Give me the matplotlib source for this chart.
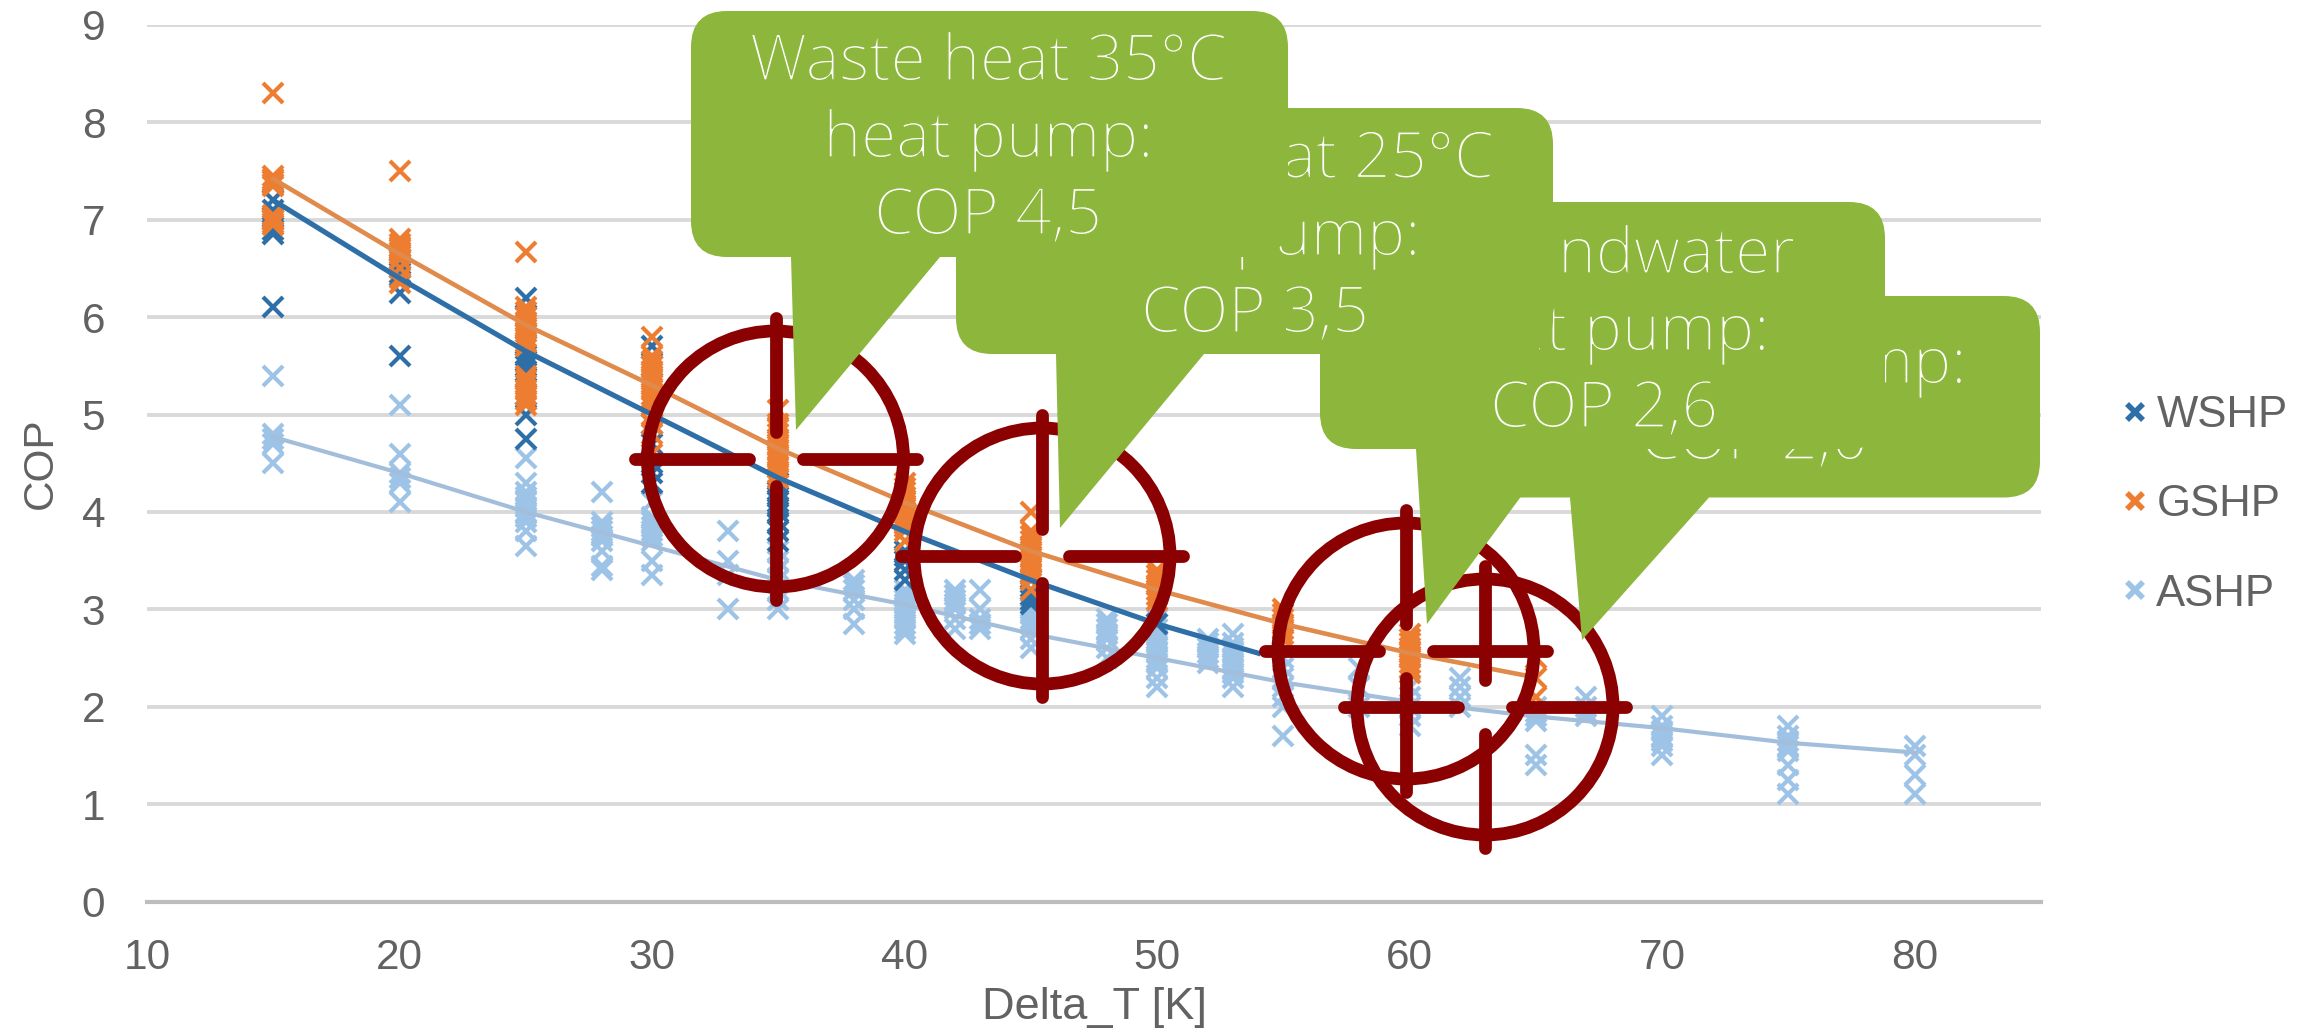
import matplotlib
matplotlib.use("Agg")
import matplotlib.pyplot as plt
import matplotlib.patheffects as pe
from matplotlib.path import Path
from matplotlib.patches import PathPatch, Circle
from matplotlib.lines import Line2D

W, H, DPI = 2320, 1033, 100
plt.rcParams['font.family'] = ['Liberation Sans', 'DejaVu Sans']

# ---------- data ----------
wshp_pts = {15: [7.2, 7.1, 7.0, 6.9, 6.85, 6.1],
            20: [6.6, 6.55, 6.5, 6.45, 6.25, 5.6],
            25: [6.2, 6.0, 5.7, 5.6, 5.55, 5.5, 5.45, 5.2, 5.0, 4.75],
            30: [5.7, 5.5, 4.9, 4.7, 4.5, 4.4, 4.3],
            35: [4.3, 4.2, 4.15, 4.1, 4.05, 4.0, 3.9, 3.8, 3.7],
            40: [3.6, 3.55, 3.5, 3.4, 3.3],
            45: [3.3, 3.2, 3.15, 3.1, 3.05],
            50: [2.85]}
gshp_pts = {15: [8.3, 7.45, 7.42, 7.4, 7.37, 7.35, 7.05, 7.02, 7.0, 6.97, 6.95],
            20: [7.5, 6.8, 6.75, 6.72, 6.7, 6.67, 6.65, 6.6, 6.5, 6.4, 6.35],
            25: [6.67, 6.1, 6.05, 6.0, 5.95, 5.9, 5.85, 5.8, 5.75, 5.7, 5.4, 5.35, 5.3, 5.25, 5.2, 5.15, 5.1],
            30: [5.8, 5.6, 5.55, 5.5, 5.45, 5.4, 5.35, 5.3, 5.25, 5.2, 5.15, 5.1, 5.0, 4.9, 4.8, 4.6],
            35: [5.05, 4.9, 4.85, 4.8, 4.75, 4.7, 4.65, 4.6, 4.55, 4.5, 4.45, 4.4, 4.35],
            40: [4.3, 4.25, 4.2, 4.15, 4.1, 4.05, 4.0, 3.95, 3.9, 3.85, 3.8, 3.7],
            45: [4.0, 3.8, 3.75, 3.7, 3.65, 3.6, 3.55, 3.5, 3.45, 3.4, 3.35, 3.3, 3.2],
            50: [3.4, 3.35, 3.3, 3.25, 3.2, 3.15, 3.1],
            55: [3.0, 2.95, 2.9, 2.85, 2.8, 2.75, 2.7],
            60: [2.75, 2.7, 2.65, 2.6, 2.55, 2.5, 2.45, 2.4, 2.35],
            65: [2.5, 2.3, 2.1]}
ashp_pts = {15: [5.4, 4.8, 4.75, 4.7, 4.5],
            20: [5.1, 4.6, 4.4, 4.35, 4.3, 4.1],
            25: [4.55, 4.3, 4.2, 4.15, 4.1, 4.05, 4.0, 3.95, 3.9, 3.8, 3.65],
            28: [4.2, 3.9, 3.85, 3.8, 3.75, 3.7, 3.6, 3.45, 3.4],
            30: [4.1, 3.95, 3.9, 3.85, 3.8, 3.75, 3.7, 3.5, 3.35],
            33: [3.8, 3.5, 3.35, 3.0],
            35: [3.6, 3.5, 3.4, 3.3, 3.2, 3.1, 3.0],
            38: [3.3, 3.25, 3.2, 3.1, 3.0, 2.85],
            40: [3.2, 3.15, 3.1, 3.05, 3.0, 2.95, 2.9, 2.85, 2.8, 2.75],
            42: [3.2, 3.15, 3.1, 3.05, 3.0, 2.9, 2.8],
            43: [3.2, 3.0, 2.9, 2.85, 2.8],
            45: [3.0, 2.95, 2.9, 2.85, 2.8, 2.7, 2.6],
            48: [2.9, 2.85, 2.8, 2.75, 2.7, 2.6, 2.5],
            50: [2.9, 2.85, 2.8, 2.75, 2.7, 2.65, 2.6, 2.55, 2.5, 2.45, 2.4, 2.3, 2.2],
            52: [2.7, 2.65, 2.6, 2.55, 2.5, 2.45],
            53: [2.75, 2.65, 2.6, 2.55, 2.5, 2.45, 2.4, 2.35, 2.3, 2.2],
            55: [2.5, 2.4, 2.3, 2.2, 2.1, 2.0, 1.7],
            58: [2.4, 2.2, 2.0],
            60: [2.2, 2.1, 2.0, 1.9, 1.8],
            62: [2.3, 2.2, 2.1, 2.0],
            65: [2.0, 1.95, 1.9, 1.85, 1.5, 1.4],
            67: [2.1, 2.0, 1.95, 1.9],
            70: [1.9, 1.8, 1.75, 1.7, 1.65, 1.6, 1.5],
            75: [1.8, 1.7, 1.65, 1.6, 1.55, 1.4, 1.25, 1.1],
            80: [1.6, 1.5, 1.3, 1.1]}

wshp_trend_x = [15, 20, 25, 30, 35, 40, 45, 50, 54]
wshp_trend_y = [7.2, 6.4, 5.65, 5.0, 4.35, 3.8, 3.3, 2.85, 2.55]
gshp_trend_x = [15, 20, 25, 30, 35, 40, 45, 50, 55, 60, 65]
gshp_trend_y = [7.42, 6.65, 5.92, 5.3, 4.65, 4.1, 3.6, 3.2, 2.85, 2.55, 2.3]
ashp_trend_x = [15, 20, 25, 30, 35, 40, 45, 50, 55, 60, 65, 70, 75, 80]
ashp_trend_y = [4.77, 4.4, 4.0, 3.65, 3.3, 3.05, 2.75, 2.5, 2.25, 2.05, 1.9, 1.78, 1.63, 1.53]

x_ticks = [10, 20, 30, 40, 50, 60, 70, 80]
y_ticks = [0, 1, 2, 3, 4, 5, 6, 7, 8, 9]

callout_texts = [
    ["Waste heat 35\u00b0C", "heat pump:", "COP 4,5"],
    ["Waste heat 25\u00b0C", "heat pump:", "COP 3,5"],
    ["Groundwater", "heat pump:", "COP 2,6"],
    ["Air heat pump:", "COP 2,0"],
]

# ---------- layout in pixels ----------
AX_L, AX_R, AX_T, AX_B = 147, 2041, 25, 901.5
C_WSHP, C_GSHP, C_ASHP = '#2E6FA8', '#ED7D31', '#9DC3E6'
C_LINE_A = '#A3BEDB'
C_TEXT = '#626262'
C_GREEN = '#8DB63C'
C_RED = '#8B0000'

fig = plt.figure(figsize=(W / DPI, H / DPI), dpi=DPI, facecolor='white')
ax = fig.add_axes([AX_L / W, 1 - AX_B / H, (AX_R - AX_L) / W, (AX_B - AX_T) / H])
ax.set_xlim(10, 85)
ax.set_ylim(0, 9)
ax.set_xticks(x_ticks)
ax.set_yticks(y_ticks)
ax.grid(axis='y', color='#D9D9D9', lw=2.8, zorder=0)
ax.set_axisbelow(True)
for s in ['top', 'right', 'left']:
    ax.spines[s].set_visible(False)
ax.spines['bottom'].set_color('#BDBDBD')
ax.spines['bottom'].set_linewidth(3)
ax.tick_params(axis='both', length=0, labelsize=30.5, labelcolor=C_TEXT)
ax.tick_params(axis='y', pad=30)
ax.tick_params(axis='x', pad=26)
ax.set_xlabel('Delta_T [K]', fontsize=32.5, color=C_TEXT, labelpad=7)
ax.set_ylabel('COP', fontsize=30.5, color=C_TEXT, labelpad=15)


def flatten(pts):
    xs, ys = [], []
    for k, vals in pts.items():
        xs += [k] * len(vals)
        ys += vals
    return xs, ys


for pts, col, lab, z in [(ashp_pts, C_ASHP, 'ASHP', 3), (wshp_pts, C_WSHP, 'WSHP', 4),
                         (gshp_pts, C_GSHP, 'GSHP', 5)]:
    xs, ys = flatten(pts)
    ax.plot(xs, ys, ls='none', marker='x', ms=14.5, mew=3, color=col, zorder=z)

ax.plot(ashp_trend_x, ashp_trend_y, color=C_LINE_A, lw=3, zorder=6)
ax.plot(gshp_trend_x, gshp_trend_y, color='#E08A4C', lw=3.3, zorder=6)
ax.plot(wshp_trend_x, wshp_trend_y, color=C_WSHP, lw=3.7, zorder=6)

handles = [Line2D([], [], ls='none', marker='x', ms=12, mew=4, color=c)
           for c in (C_WSHP, C_GSHP, C_ASHP)]
fig.legend(handles, ['WSHP', 'GSHP', 'ASHP'], loc='center left',
           bbox_to_anchor=(2117 / W, 1 - 505 / H), frameon=False, fontsize=31.5,
           labelcolor=C_TEXT, handlelength=0.8, handletextpad=0.1, labelspacing=1.1,
           borderpad=0, borderaxespad=0)

# ---------- overlay in pixel coordinates ----------
ov = fig.add_axes([0, 0, 1, 1], zorder=10)
ov.set_xlim(0, W)
ov.set_ylim(H, 0)
ov.axis('off')
ov.patch.set_alpha(0)


def target(cx, cy):
    ov.add_patch(Circle((cx, cy), 128, fill=False, ec=C_RED, lw=9.2, zorder=1))
    for dx, dy in [(1, 0), (-1, 0), (0, 1), (0, -1)]:
        ov.plot([cx + dx * 27, cx + dx * 141], [cy + dy * 27, cy + dy * 141],
                color=C_RED, lw=9.2, solid_capstyle='round', zorder=1)


for c in [(775.5, 459), (1042, 556), (1406, 651), (1485, 707)]:
    target(*c)


def callout(l, r, t, b, base_l, base_r, tip, z, r_c=36):
    M, L, Q = Path.MOVETO, Path.LINETO, Path.CURVE3
    v = [(l + r_c, t), (r - r_c, t), (r, t), (r, t + r_c), (r, b - r_c), (r, b), (r - r_c, b),
         (base_r, b), tip, (base_l, b), (l + r_c, b), (l, b), (l, b - r_c), (l, t + r_c),
         (l, t), (l + r_c, t), (l + r_c, t)]
    c = [M, L, Q, Q, L, Q, Q, L, L, L, L, Q, Q, L, Q, Q, Path.CLOSEPOLY]
    ov.add_patch(PathPatch(Path(v, c), fc=C_GREEN, ec='none', zorder=z))


boxes = [
    (691, 1288, 11, 257, 791, 940, (796, 430), [80, 157, 234], 988),
    (956, 1553, 108, 354, 1056, 1204, (1060, 528), [177.5, 255, 332], 1255),
    (1320, 1885, 202, 449, 1416, 1556, (1427, 624), [273, 350, 427], 1604),
    (1470, 2040, 296, 497.5, 1570, 1709, (1582, 640), [383, 459], 1754),
]
thin = [pe.Normal(), pe.Stroke(linewidth=1.0, foreground=C_GREEN)]
for i, (box, lines) in enumerate(zip(boxes, callout_texts)):
    l, r, t, b, bl, br, tip, bases, cx = box
    z = 20 - 2 * i
    callout(l, r, t, b, bl, br, tip, z)
    for base, line in zip(bases, lines):
        ov.text(cx, base, line, ha='center', va='baseline', color='white', fontsize=46,
                family=['Open Sans', 'DejaVu Sans'], weight='light', zorder=z + 1,
                path_effects=thin)

fig.savefig('out.png', dpi=DPI)
